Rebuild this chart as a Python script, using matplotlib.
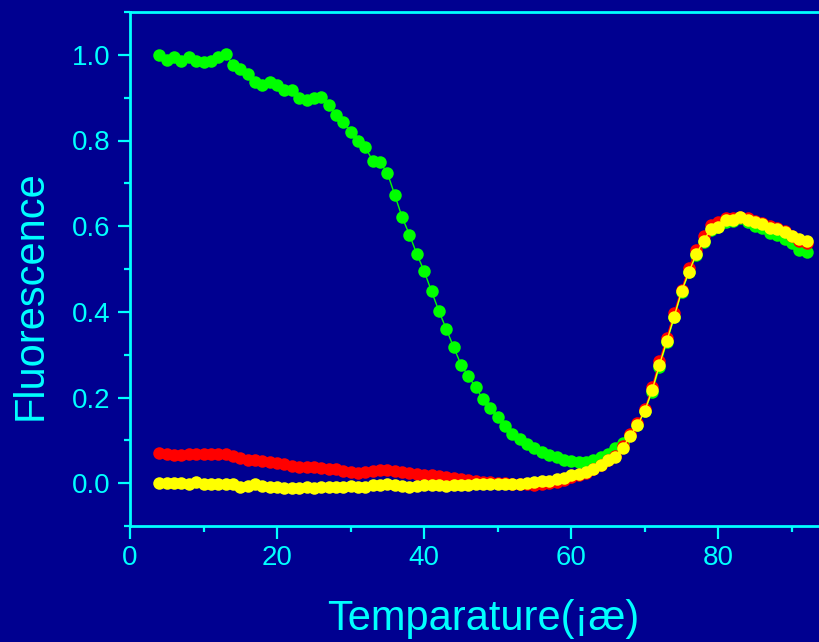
import matplotlib
matplotlib.use('Agg')
import matplotlib.pyplot as plt
import numpy as np

BG = '#000090'
FG = '#00FFFF'
LSIZE = 20

# temperature, one reading per degree
temp = list(range(4, 93))

green = [1.000, 0.988, 0.994, 0.986, 0.995, 0.986, 0.984, 0.986, 0.995, 1.002,
         0.977, 0.967, 0.956, 0.937, 0.930, 0.937, 0.930, 0.918, 0.917, 0.899,
         0.894, 0.900, 0.902, 0.883, 0.859, 0.844, 0.820, 0.800, 0.784, 0.753,
         0.749, 0.724, 0.673, 0.621, 0.580, 0.535, 0.495, 0.448, 0.402, 0.360,
         0.318, 0.277, 0.250, 0.224, 0.196, 0.176, 0.155, 0.133, 0.114, 0.102,
         0.091, 0.082, 0.073, 0.065, 0.060, 0.054, 0.051, 0.050, 0.050, 0.054,
         0.061, 0.069, 0.081, 0.093, 0.113, 0.136, 0.168, 0.214, 0.272, 0.330,
         0.387, 0.446, 0.492, 0.533, 0.563, 0.590, 0.598, 0.610, 0.612, 0.618,
         0.610, 0.600, 0.595, 0.585, 0.580, 0.570, 0.560, 0.545, 0.540]

red = [0.071, 0.069, 0.066, 0.066, 0.067, 0.068, 0.068, 0.068, 0.067, 0.069,
       0.063, 0.058, 0.054, 0.053, 0.051, 0.049, 0.047, 0.045, 0.041, 0.037,
       0.038, 0.038, 0.036, 0.034, 0.032, 0.029, 0.026, 0.023, 0.025, 0.029,
       0.031, 0.030, 0.029, 0.027, 0.024, 0.022, 0.020, 0.018, 0.016, 0.014,
       0.011, 0.009, 0.007, 0.005, 0.003, 0.002, 0.001, 0.000, -0.001, -0.002,
       -0.003, -0.004, -0.003, 0.000, 0.003, 0.008, 0.014, 0.019, 0.024, 0.033,
       0.042, 0.054, 0.064, 0.086, 0.114, 0.140, 0.172, 0.224, 0.285, 0.340,
       0.398, 0.452, 0.502, 0.545, 0.578, 0.603, 0.610, 0.620, 0.620, 0.622,
       0.620, 0.612, 0.608, 0.600, 0.595, 0.588, 0.578, 0.565, 0.560]

yellow = [0.001, 0.001, 0.001, 0.001, -0.001, 0.002, -0.001, -0.001, -0.002, -0.001,
          -0.002, -0.009, -0.006, -0.002, -0.007, -0.008, -0.010, -0.012, -0.012, -0.012,
          -0.010, -0.012, -0.010, -0.010, -0.009, -0.008, -0.007, -0.008, -0.008, -0.005,
          -0.004, -0.003, -0.004, -0.006, -0.010, -0.006, -0.005, -0.004, -0.005, -0.006,
          -0.005, -0.004, -0.004, -0.003, -0.003, -0.002, -0.003, -0.002, -0.002, -0.001,
          0.000, 0.002, 0.004, 0.006, 0.009, 0.013, 0.018, 0.021, 0.025, 0.034,
          0.042, 0.054, 0.062, 0.083, 0.110, 0.135, 0.169, 0.217, 0.277, 0.332,
          0.389, 0.448, 0.493, 0.535, 0.566, 0.594, 0.599, 0.615, 0.615, 0.622,
          0.615, 0.609, 0.605, 0.596, 0.594, 0.586, 0.578, 0.570, 0.566]

series = [(green, '#00FF00'), (red, '#FF0000'), (yellow, '#FFFF00')]

plt.rc('font', family=['Liberation Sans', 'DejaVu Sans'])

fig = plt.figure(figsize=(8.19, 6.42), dpi=100)
fig.patch.set_facecolor(BG)
# axes runs a little past the right edge of the picture
ax = fig.add_axes([130/819, 116/642, 706/819, 514/642])
ax.set_facecolor(BG)

for y, c in series:
  ax.plot(temp, y, '-', color=c, lw=1.0, marker='o', ms=9,
          mfc=c, mec=c, mew=0)

ax.set_xlim(0, 96)
ax.set_ylim(-0.1, 1.1)
ax.set_xticks([0, 20, 40, 60, 80])
ax.set_xticks(np.arange(10, 100, 20), minor=True)
ax.set_yticks([0.0, 0.2, 0.4, 0.6, 0.8, 1.0])
ax.set_yticks([-0.1, 0.1, 0.3, 0.5, 0.7, 0.9, 1.1], minor=True)
ax.set_yticklabels(['0.0', '0.2', '0.4', '0.6', '0.8', '1.0'])

for s in ['left', 'bottom', 'top']:
  ax.spines[s].set_color(FG)
  ax.spines[s].set_linewidth(2)
ax.spines['right'].set_visible(False)

ax.tick_params(which='major', direction='out', length=9, width=1.6,
               colors=FG, labelsize=LSIZE, pad=5)
ax.tick_params(which='minor', direction='out', length=4.5, width=1.6,
               colors=FG)

fig.text(31/819, 1 - 295/642, 'Fluorescence', rotation=90, color=FG,
         fontsize=30, ha='center', va='center')
fig.text(483/819, 1 - 630/642, 'Temparature(¡æ)', color=FG,
         fontsize=30, ha='center', va='baseline')

plt.savefig('out.png', dpi=100, facecolor=BG)
plt.close()
